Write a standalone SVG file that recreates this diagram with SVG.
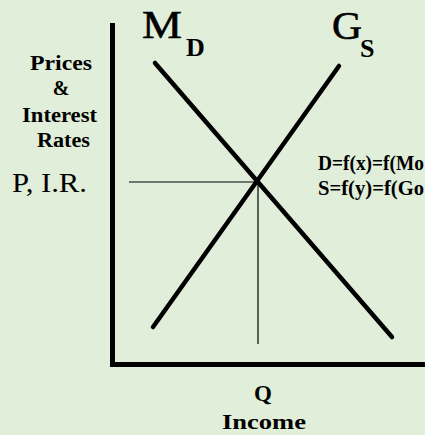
<svg xmlns="http://www.w3.org/2000/svg" width="425" height="435" viewBox="0 0 425 435">
<style>
.t{font-family:"Liberation Serif","Times New Roman",serif;fill:#000}
.b{font-weight:bold}
.axis{stroke:#000;stroke-width:5;fill:none}
.curve{stroke:#000;stroke-width:4.5;stroke-linecap:round;fill:none}
.guide{stroke:#000;stroke-width:1.2;fill:none}
</style>
<rect width="425" height="435" fill="#E1EED9"/>
<g id="axes">
<path class="axis" d="M112.5,23 V364.5 H425"/>
</g>
<g id="connectors">
<line class="curve" x1="155" y1="63" x2="392" y2="337"/>
<line class="curve" x1="339" y1="66" x2="153" y2="327"/>
<line class="guide" x1="129" y1="182" x2="258" y2="182"/>
<line class="guide" x1="258" y1="182" x2="258" y2="344"/>
</g>
<g id="md-label">
<text class="t" x="142" y="38" font-size="40" textLength="40" lengthAdjust="spacingAndGlyphs" stroke="#000" stroke-width="0.6">M</text>
<text class="t b" x="186" y="56" font-size="26">D</text>
</g>
<g id="gs-label">
<text class="t" x="332" y="39" font-size="40" textLength="30" lengthAdjust="spacingAndGlyphs" stroke="#000" stroke-width="0.6">G</text>
<text class="t b" x="360" y="57" font-size="26">S</text>
</g>
<g id="y-label">
<text class="t b" x="61" y="70" font-size="20" text-anchor="middle" textLength="62" lengthAdjust="spacingAndGlyphs">Prices</text>
<text class="t b" x="61" y="95" font-size="20" text-anchor="middle">&amp;</text>
<text class="t b" x="59.5" y="122" font-size="20" text-anchor="middle" textLength="75" lengthAdjust="spacingAndGlyphs">Interest</text>
<text class="t b" x="63.5" y="147" font-size="20" text-anchor="middle" textLength="53" lengthAdjust="spacingAndGlyphs">Rates</text>
</g>
<g id="p-label">
<text class="t" x="12" y="192" font-size="27" textLength="75" lengthAdjust="spacingAndGlyphs">P, I.R.</text>
</g>
<g id="equations">
<text class="t b" x="318" y="170" font-size="22" textLength="106" lengthAdjust="spacingAndGlyphs">D=f(x)=f(Mo</text>
<text class="t b" x="318" y="195" font-size="22" textLength="106" lengthAdjust="spacingAndGlyphs">S=f(y)=f(Go</text>
</g>
<g id="x-label">
<text class="t b" x="263" y="401" font-size="23" text-anchor="middle">Q</text>
<text class="t b" x="264" y="429" font-size="22" text-anchor="middle" textLength="84" lengthAdjust="spacingAndGlyphs">Income</text>
</g>
</svg>
